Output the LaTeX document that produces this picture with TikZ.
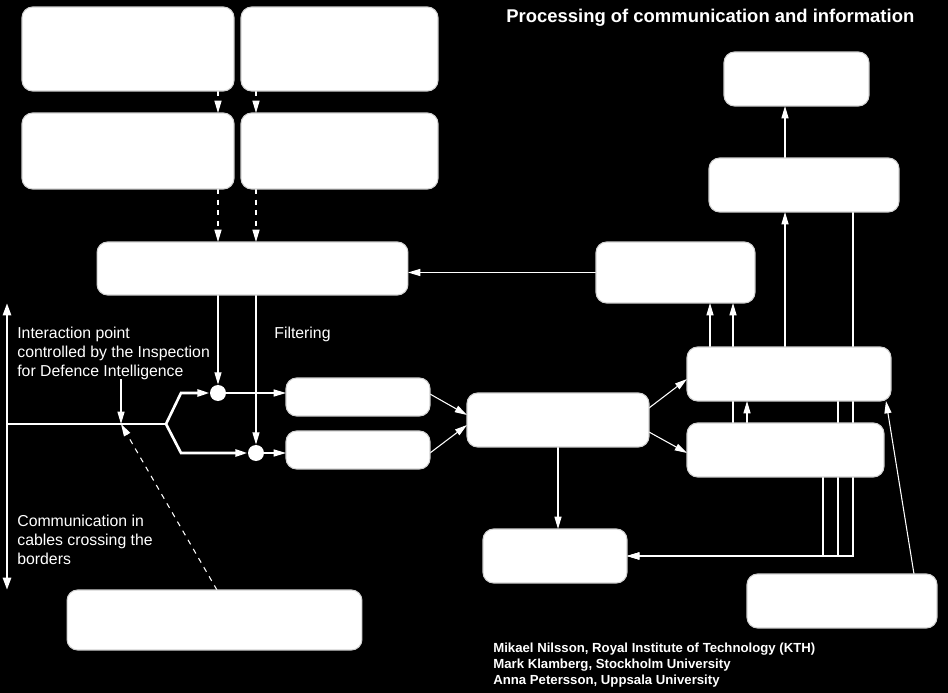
\documentclass[tikz,border=0pt]{standalone}
\usepackage{fontspec}
\setmainfont{Liberation Sans}
\usetikzlibrary{arrows.meta}
\pgfdeclarelayer{background}
\pgfsetlayers{background,main}

\begin{document}
\begin{tikzpicture}[x=0.02cm, y=-0.02cm,
  box/.style={rectangle, rounded corners=6pt, draw=gray!35, line width=0.6pt, fill=white, inner sep=0pt, outer sep=0pt},
  dot/.style={circle, fill=white, minimum size=0.32cm, inner sep=0pt},
  link/.style={white, line width=0.6pt, -{Triangle[width=4pt,length=7pt]}},
  cable/.style={white, line width=1.5pt},
  note/.style={white, font=\fontsize{9}{10.8}\selectfont, align=left, inner sep=0pt}]
  \useasboundingbox (0,0) rectangle (948,693);
  % Nodes
  \node (A1) [box, minimum width=4.24cm, minimum height=1.68cm] at (128, 49) {};
  \node (A2) [box, minimum width=3.94cm, minimum height=1.68cm] at (339.5, 49) {};
  \node (B1) [box, minimum width=4.24cm, minimum height=1.52cm] at (128, 151) {};
  \node (B2) [box, minimum width=3.94cm, minimum height=1.52cm] at (339.5, 151) {};
  \node (C) [box, minimum width=6.22cm, minimum height=1.06cm] at (252.5, 268.5) {};
  \node (D) [box, minimum width=3.18cm, minimum height=1.22cm] at (675.5, 272.5) {};
  \node (J) [box, minimum width=2.9cm, minimum height=1.08cm] at (796.5, 79) {};
  \node (K) [box, minimum width=3.8cm, minimum height=1.08cm] at (804, 185) {};
  \node (E) [box, minimum width=4.08cm, minimum height=1.08cm] at (789, 374) {};
  \node (F) [box, minimum width=3.94cm, minimum height=1.08cm] at (785.5, 450) {};
  \node (G) [box, minimum width=3.64cm, minimum height=1.08cm] at (558, 420) {};
  \node (H) [box, minimum width=2.88cm, minimum height=1.08cm] at (555, 556) {};
  \node (I) [box, minimum width=3.8cm, minimum height=1.08cm] at (842, 601) {};
  \node (L1) [box, minimum width=2.88cm, minimum height=0.76cm] at (358, 397) {};
  \node (L2) [box, minimum width=2.88cm, minimum height=0.76cm] at (358, 450) {};
  \node (M) [box, minimum width=5.9cm, minimum height=1.2cm] at (214.5, 620) {};
  \node (c1) [dot] at (218, 393) {};
  \node (c2) [dot] at (256, 453) {};
  % Lanes and cable points
  \coordinate (xa) at (218, 0);
  \coordinate (xb) at (256, 0);
  \coordinate (btop) at (7, 303);
  \coordinate (bbot) at (7, 590);
  \coordinate (split) at (166, 424);
  \coordinate (ip) at (121, 424);
  % Texts
  \node (title) [white, font=\bfseries\fontsize{10.5}{12}\selectfont, anchor=base west, inner sep=0pt] at (506, 23) {Processing of communication and information};
  \node (interact) [note, anchor=north west] at (17, 327) {Interaction point\\controlled by the Inspection\\for Defence Intelligence};
  \node (filter) [note, anchor=north west] at (274, 327) {Filtering};
  \node (cables) [note, anchor=north west] at (17, 515) {Communication in\\cables crossing the\\borders};
  \node (credits) [white, font=\bfseries\fontsize{7.5}{9.07}\selectfont, align=left, anchor=north west, inner sep=0pt] at (493, 643) {Mikael Nilsson, Royal Institute of Technology (KTH)\\Mark Klamberg, Stockholm University\\Anna Petersson, Uppsala University};
  \begin{pgfonlayer}{background}
    \fill[black] (0, 0) rectangle (948, 693);
    % Arrows
    \draw[link, dashed] (A1.south -| xa) -- (B1.north -| xa);
    \draw[link, dashed] (A2.south -| xb) -- (B2.north -| xb);
    \draw[link, dashed] (B1.south -| xa) -- (C.north -| xa);
    \draw[link, dashed] (B2.south -| xb) -- (C.north -| xb);
    \draw[link] (C.south -| xa) -- (c1);
    \draw[link] (C.south -| xb) -- (c2);
    \draw[link] (c1) -- (c1 -| L1.west);
    \draw[link] (c2) -- (c2 -| L2.west);
    \draw[link] (L1.east |- 0, 394) -- (G.west |- 0, 415);
    \draw[link] (L2.east |- 0, 453) -- (G.west |- 0, 425);
    \draw[link] (G.east |- 0, 408) -- (E.west |- 0, 379);
    \draw[link] (G.east |- 0, 432) -- (F.west |- 0, 453);
    \draw[link] (G.south) -- (G.south |- H.north);
    \draw[link] (D.west) -- (D.west -| C.east);
    \draw[link] (E.north -| 710, 0) -- (D.south -| 710, 0);
    \draw[link] (F.north -| 733, 0) -- (D.south -| 733, 0);
    \draw[link] (E.north -| 785, 0) -- (K.south -| 785, 0);
    \draw[link] (K.north -| 785, 0) -- (J.south -| 785, 0);
    \draw[link] (F.north -| 747, 0) -- (E.south -| 747, 0);
    \draw[link] (K.south -| 853, 0) |- (H.east);
    \draw[link] (E.south -| 838, 0) |- (H.east);
    \draw[link] (F.south -| 823, 0) |- (H.east);
    \draw[link] (I.north -| 914, 0) -- (E.south -| 886, 0);
    % Cable
    \draw[cable, {Triangle[width=4.5pt,length=7pt]}-{Triangle[width=4.5pt,length=7pt]}] (btop) -- (bbot);
    \draw[cable] (btop |- split) -- (split);
    \draw[cable, -{Triangle[width=4pt,length=7pt]}] (split) -- (181, 393) -- (c1);
    \draw[cable, -{Triangle[width=4pt,length=7pt]}] (split) -- (181, 453) -- (c2);
    \draw[link] (121, 379) -- (ip);
    \draw[link, dashed] (M.north -| 217, 0) -- (ip);
  \end{pgfonlayer}
\end{tikzpicture}
\end{document}
